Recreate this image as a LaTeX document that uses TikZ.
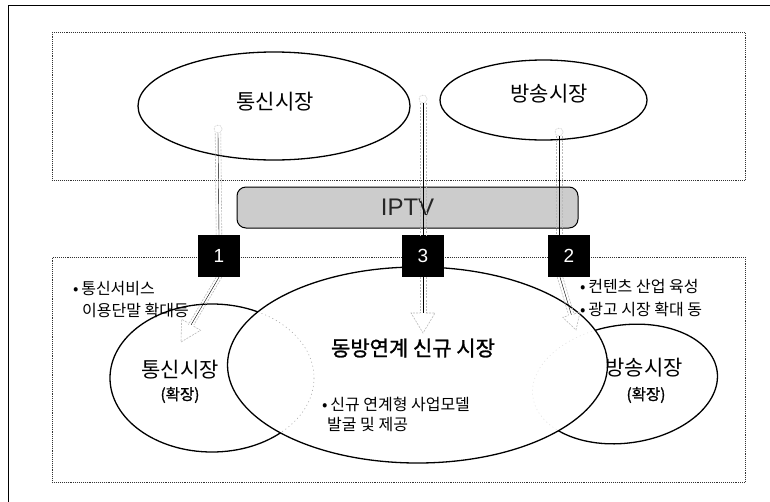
\documentclass[tikz,border=0pt]{standalone}
\usepackage{fontspec}
\setmainfont{Noto Sans CJK KR}
\newfontfamily\latf{Liberation Sans}
\newfontfamily\kbold[FakeBold=1.2]{Noto Sans CJK KR}
\usetikzlibrary{calc,shapes.geometric}
\begin{document}
\begin{tikzpicture}[x=1pt,y=-1pt,
 dotbox/.style={draw=black!80, line width=0.9pt, densely dotted, inner sep=0, anchor=north west},
 mkt/.style={draw, ellipse, line width=1.3pt, inner sep=0},
 sqbox/.style={fill=black, minimum size=42pt, inner sep=0, text=white, font=\latf\fontsize{19}{20}\selectfont},
 shaftline/.style={draw=gray!55, line width=0.6pt, dash pattern=on 2pt off 1.2pt},
 shaft/.style={postaction={shaftline, transform canvas={xshift=2.8pt}}, postaction={shaftline, transform canvas={xshift=-2.8pt}}},
 head/.style={shaftline},
 hole/.style={draw=gray!60, line width=0.6pt, densely dotted, circle, minimum size=8pt, inner sep=0},
 big/.style={font=\fontsize{21}{24}\selectfont, inner sep=0},
 small/.style={font=\fontsize{16}{18}\selectfont, anchor=west, inner sep=0},
 paren/.style={font=\kbold\fontsize{15.5}{17}\selectfont, inner sep=0},
 hidden/.style={draw=gray!70, line width=0.6pt, dash pattern=on 1pt off 3pt}
]
\useasboundingbox (0,0) rectangle (770,501);
\draw[line width=0.8pt] (8,510) -- (8,5) -- (780,5);

% frames
\node[dotbox, minimum width=693pt, minimum height=148pt] (upper) at (52,32) {};
\node[dotbox, minimum width=693pt, minimum height=225pt] (lower) at (52,257) {};

% top markets
\node[mkt, minimum width=272pt, minimum height=108pt] (telA) at (274,106) {};
\node[big] (telAt) at (275,102) {통신시장};
\node[mkt, minimum width=207pt, minimum height=80pt] (broA) at (543.5,100) {};
\node[big] (broAt) at (549,94) {방송시장};

% IPTV bar
\node[draw, line width=1pt, rounded corners=9pt, fill=gray!40, minimum width=341pt, minimum height=41pt,
      font=\latf\fontsize{24}{26}\selectfont, text=black!85] (iptv) at (407.5,207.5) {IPTV};

% lower markets
\coordinate (lc) at (212,378);
\coordinate (rc) at (625,384);
\node[mkt, minimum width=380pt, minimum height=196pt] (newm) at (417.5,365) {};
\begin{scope}[even odd rule]
 \clip (0,0) rectangle (770,501) (newm.center) ellipse [x radius=190, y radius=98];
 \draw[line width=1.3pt] (lc) ellipse [x radius=102, y radius=74];
 \draw[line width=1.3pt, rotate around={8:(rc)}] (rc) ellipse [x radius=93, y radius=59];
\end{scope}
\begin{scope}
 \clip (newm.center) ellipse [x radius=189, y radius=97];
 \draw[hidden] (lc) ellipse [x radius=102, y radius=74];
 \draw[hidden, draw=gray!25, rotate around={8:(rc)}] (rc) ellipse [x radius=93, y radius=59];
\end{scope}

% numbered boxes
\node[sqbox] (s1) at (219,256) {1};
\node[sqbox] (s3) at (423,256) {3};
\node[sqbox] (s2) at (569,256) {2};

% holes
\node[hole] (h1) at (218,129) {};
\node[hole] (h3) at (423,99) {};
\node[hole] (h2) at (559,132) {};

% upper shafts
\draw[shaft] (h1.south) -- (s1.north);
\draw[shaft] (h3.south) -- (s3.north);
\draw[shaft] (h2.south) -- ($(s2.north)+(-10,0)$);

% lower arrows
\coordinate (t1) at (181,342);
\coordinate (t3) at (423,333);
\coordinate (t2) at (576,330);
\coordinate (b1) at ($(t1)!20pt!(s1.south)$);
\coordinate (b3) at ($(t3)!20pt!(s3.south)$);
\coordinate (b2) at ($(t2)!16pt!($(s2.south)+(-9,0)$)$);
\draw[shaft] (s1.south) -- (b1);
\draw[shaft] (s3.south) -- (b3);
\draw[shaft] ($(s2.south)+(-9,0)$) -- (b2);
\foreach \t/\b/\w in {t1/b1/11pt, t3/b3/12pt, t2/b2/9pt}{
  \draw[head] ($(\b)!3pt!90:(\t)$) -- ($(\b)!\w!90:(\t)$) -- (\t) -- ($(\b)!\w!-90:(\t)$) -- ($(\b)!3pt!-90:(\t)$);
}

% lower labels
\node[big] (lt) at (180,370) {통신시장};
\node[paren] (lp) at (180,395) {(확장)};
\node[big] (rt) at (644,368) {방송시장};
\node[paren] (rp) at (646,395) {(확장)};
\node[font=\kbold\fontsize{21}{24}\selectfont, inner sep=0] (nt) at (413,348) {동방연계 신규 시장};
\node[small] (n1) at (322,404) {•\,신규 연계형 사업모델};
\node[small] (n2) at (327,424) {발굴 및 제공};
\node[small] (l1) at (73,289) {•\,통신서비스};
\node[small] (l2) at (82,310) {이용단말 확대등};
\node[small] (r1) at (580,287) {•\,컨텐츠 산업 육성};
\node[small] (r2) at (580,309) {•\,광고 시장 확대 동};
\end{tikzpicture}
\end{document}
